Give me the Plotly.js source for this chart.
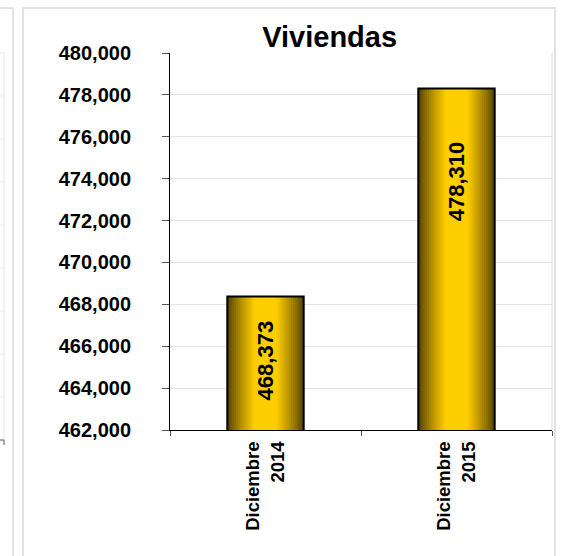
<!DOCTYPE html>
<html>
<head>
<meta charset="utf-8">
<script src="https://cdn.plot.ly/plotly-3.0.1.min.js"></script>
<style>
	html, body { margin: 0; padding: 0; background: #ffffff; }
	#chart { width: 563px; height: 556px; }
</style>
</head>
<body>
<div id="chart"></div>
<script>
// chart data
const categories = [ 'Diciembre<br>2014', 'Diciembre<br>2015' ];
const viviendas = [ 468373, 478310 ];
// where the value labels sit inside the bars (axis units)
const labelY = [ 465300, 473850 ];

const FONT = 'Liberation Sans, Arial, sans-serif';
const BAR_WIDTH = 0.4;
const LAYERS = 18;

/**
 * Mixes the dark edge colour and the bright centre colour of the bars.
 *
 * @param { number } t 0 = edge, 1 = centre
 */
function barColor( t ) {

	const edge = [ 74, 58, 0 ];
	const centre = [ 255, 206, 0 ];
	const c = edge.map( ( e, i ) => Math.round( e + ( centre[ i ] - e ) * t ) );

	return 'rgb(' + c.join( ',' ) + ')';

}

/**
 * Builds the bars as stacked layers of narrowing width so they look shaded.
 */
function createBarTraces() {

	let traces = [ ];

	for ( let k = 0; k < LAYERS; k++ ) {

		const f = 1 - k / LAYERS;
		const r = f - 0.5 / LAYERS;
		const t = Math.pow( Math.min( 1, ( 1 - r ) / 0.72 ), 0.8 );

		traces.push( {
			x: categories,
			y: viviendas,
			type: 'bar',
			width: categories.map( () => BAR_WIDTH * f ),
			marker: { color: barColor( t ), line: { width: 0 } },
			hoverinfo: 'skip',
			showlegend: false
		} );

	}

	// outline on top of everything
	traces.push( {
		x: categories,
		y: viviendas,
		type: 'bar',
		width: categories.map( () => BAR_WIDTH ),
		marker: { color: 'rgba(0,0,0,0)', line: { color: '#000000', width: 2 } },
		showlegend: false
	} );

	return traces;

}

// light grey frames of this panel and the cut-off neighbour on the left
const px = ( v ) => ( v - 170 ) / 382;
const py = ( v ) => ( 430 - v ) / 377;
const grey = { color: '#e2e2e2', width: 2 };

let shapes = [
	{ type: 'rect', xref: 'paper', yref: 'paper', x0: px( 23 ), x1: px( 555 ), y0: py( 570 ), y1: py( 8 ), line: grey },
	{ type: 'line', xref: 'paper', yref: 'paper', x0: 1, x1: 1, y0: 0, y1: 1, line: { color: '#dcdcdc', width: 1 } },
	{ type: 'line', xref: 'paper', yref: 'paper', x0: px( 13 ), x1: px( 13 ), y0: py( 570 ), y1: py( 8 ), line: grey },
	{ type: 'line', xref: 'paper', yref: 'paper', x0: px( -5 ), x1: px( 13 ), y0: py( 8 ), y1: py( 8 ), line: grey },
	{ type: 'line', xref: 'paper', yref: 'paper', x0: px( 4 ), x1: px( 4 ), y0: py( 440 ), y1: py( 53 ), line: { color: '#e6e6e6', width: 1 } },
	{ type: 'line', xref: 'paper', yref: 'paper', x0: px( -5 ), x1: px( 4 ), y0: py( 440 ), y1: py( 440 ), line: { color: '#555555', width: 1 } },
	{ type: 'line', xref: 'paper', yref: 'paper', x0: px( 4 ), x1: px( 4 ), y0: py( 440 ), y1: py( 445 ), line: { color: '#555555', width: 1 } }
];

for ( let g = 53; g < 440; g += 43 ) {

	shapes.push( { type: 'line', xref: 'paper', yref: 'paper', x0: px( -5 ), x1: px( 4 ), y0: py( g ), y1: py( g ), line: { color: '#ececec', width: 1 } } );

}

const annotations = viviendas.map( ( v, i ) => ( {
	x: categories[ i ],
	y: labelY[ i ],
	xref: 'x',
	yref: 'y',
	text: '<b>' + v.toLocaleString( 'en-US' ) + '</b>',
	textangle: -90,
	showarrow: false,
	font: { family: FONT, size: 22, color: '#000000' }
} ) );

const layout = {
	width: 563,
	height: 556,
	margin: { l: 170, r: 11, t: 53, b: 126 },
	paper_bgcolor: '#ffffff',
	plot_bgcolor: '#ffffff',
	barmode: 'overlay',
	title: {
		text: '<b>Viviendas</b>',
		font: { family: FONT, size: 29, color: '#000000' },
		xref: 'paper',
		x: 0.418,
		xanchor: 'center',
		yref: 'container',
		y: 1 - 37 / 556,
		yanchor: 'middle'
	},
	xaxis: {
		type: 'category',
		showline: true,
		linecolor: '#000000',
		linewidth: 1,
		ticks: 'outside',
		tickson: 'boundaries',
		ticklen: 5,
		tickcolor: '#555555',
		tickangle: -90,
		ticklabelstandoff: 3,
		tickfont: { family: FONT, size: 18.5, color: '#000000', weight: 'bold' },
		showgrid: false,
		zeroline: false,
		fixedrange: true
	},
	yaxis: {
		range: [ 462000, 480000 ],
		dtick: 2000,
		tickformat: ',d',
		showline: true,
		linecolor: '#000000',
		linewidth: 1,
		ticks: 'outside',
		ticklen: 7,
		tickcolor: '#555555',
		ticklabelstandoff: 27,
		tickfont: { family: FONT, size: 20, color: '#000000', weight: 'bold' },
		showgrid: true,
		gridcolor: '#e4e4e4',
		gridwidth: 1,
		zeroline: false,
		fixedrange: true
	},
	shapes: shapes,
	annotations: annotations
};

Plotly.newPlot( 'chart', createBarTraces(), layout, { staticPlot: true } );
</script>
</body>
</html>
